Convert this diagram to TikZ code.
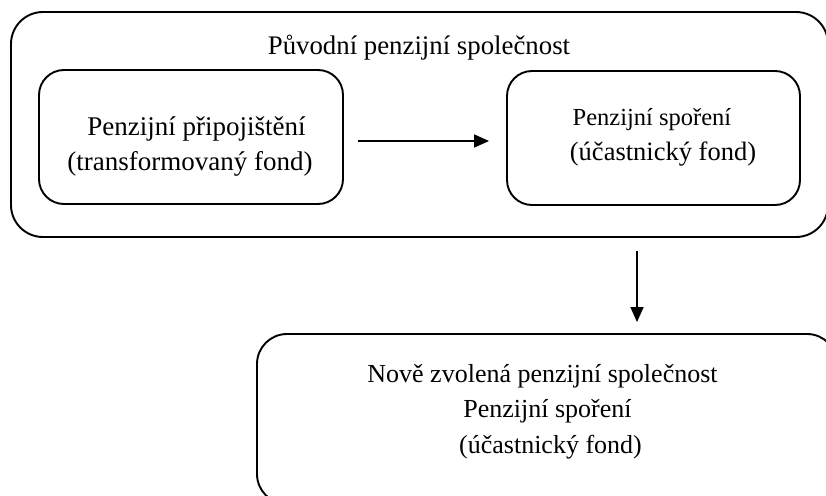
\documentclass[tikz,border=0pt]{standalone}
\usepackage{fontspec}
\setmainfont{Liberation Serif}
\usetikzlibrary{arrows.meta}
\tikzset{
  box/.style={draw=black, line width=1.9pt, rounded corners=#1, inner sep=0pt},
  lbl/.style={anchor=base, inner sep=0pt, text=black},
  conn/.style={line width=1.6pt, -{Triangle[length=15pt,width=13pt]}},
}
\newcommand{\fs}[1]{\fontsize{#1}{#1}\selectfont}
\begin{document}
\begin{tikzpicture}[x=1pt,y=-1pt]
\useasboundingbox (0,0) rectangle (826,495);
\clip (0,0) rectangle (826,495);
% outer box
\node[box=32pt, minimum width=817pt, minimum height=225pt] (outer) at (419.5,124.5) {};
\node[lbl, font=\fs{26.8}] (outert) at (419,55) {Původní penzijní společnost};
% left inner box
\node[box=25pt, minimum width=304pt, minimum height=134pt] (left) at (191,137) {};
\node[lbl, font=\fs{27}] (l1) at (196.5,135) {Penzijní připojištění};
\node[lbl, font=\fs{27}] (l2) at (190,170) {(transformovaný fond)};
% right inner box
\node[box=25pt, minimum width=293pt, minimum height=134pt] (right) at (653.5,138) {};
\node[lbl, font=\fs{24.5}] (r1) at (652,125) {Penzijní spoření};
\node[lbl, font=\fs{26.5}] (r2) at (663,160) {(účastnický fond)};
% bottom box
\node[box=30pt, minimum width=580pt, minimum height=170pt] (newco) at (547,419) {};
\node[lbl, font=\fs{26}] (b1) at (542.5,382) {Nově zvolená penzijní společnost};
\node[lbl, font=\fs{26}] (b2) at (547.5,417) {Penzijní spoření};
\node[lbl, font=\fs{26}] (b3) at (550.5,453) {(účastnický fond)};
% connectors
\coordinate (ay) at (0,141);
\coordinate (dx) at (637,0);
\draw[conn, shorten <=14pt, shorten >=17pt] (left.east |- ay) -- (right.west |- ay);
\draw[conn, shorten <=13pt, shorten >=11pt] (outer.south -| dx) -- (newco.north -| dx);
\end{tikzpicture}
\end{document}
